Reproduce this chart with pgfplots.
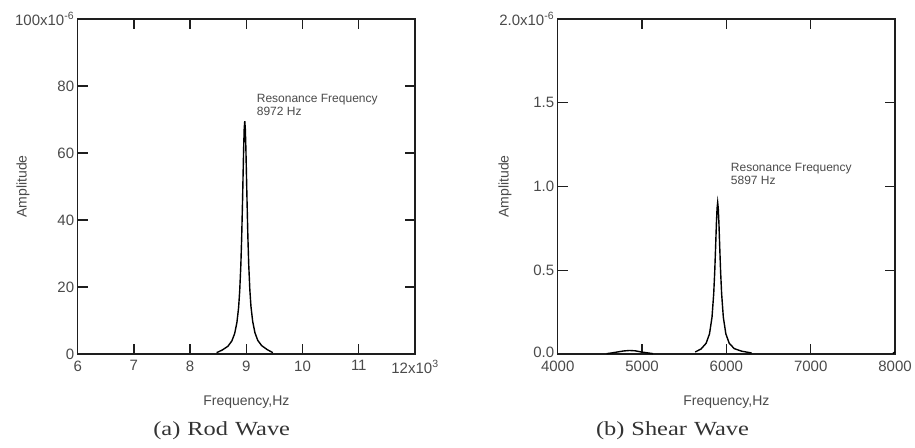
\documentclass[border=0pt]{standalone}
\usepackage{pgfplots}
\pgfplotsset{compat=1.18}
\usepackage{fontspec}
\setmainfont{Liberation Sans}
\newfontfamily\capfont[FakeStretch=1.22]{Liberation Serif}
\definecolor{txt}{HTML}{4A4A4A}
\definecolor{axc}{HTML}{1E1E1E}
\pgfplotsset{myax/.style={
  scale only axis, width=337.3pt, height=335pt, anchor=south west,
  axis line style={line width=1.3pt, color=axc},
  major tick length=10pt,
  scaled ticks=false,
  tick style={line width=1.3pt, color=axc},
  tick label style={font=\fontsize{15}{17}\selectfont, text=txt},
  xticklabel style={yshift=-3pt},
  label style={font=\fontsize{14}{16}\selectfont, text=txt},
  xlabel style={at={(axis description cs:0.5,-0.143)}, anchor=center},
  ylabel style={anchor=center},
}}
\tikzset{crv/.style={line width=1.4pt, color=black, mark=none}}
\begin{document}
\begin{tikzpicture}
\path[use as bounding box] (0pt,0pt) rectangle (915pt,447pt);
% (a) Rod wave
\begin{axis}[myax, at={(77.7pt,93pt)},
  xmin=6000, xmax=12000, ymin=0, ymax=100,
  xtick={6000,7000,8000,9000,10000,11000,12000},
  xticklabels={6,7,8,9,10,11,{12x10\textsuperscript{3}}},
  ytick={0,20,40,60,80,100},
  yticklabels={0,20,40,60,80,{100x10\textsuperscript{-6}}},
  xlabel={Frequency,Hz}, ylabel={Amplitude},
  ylabel style={at={(axis description cs:-0.162,0.5)}},
]
\addplot[crv] coordinates {
(8472,0.4) (8572,1.2) (8672,2.3) (8742,3.9) (8792,6.1) (8832,9.4) (8862,13.8)
(8882,18.9) (8902,26.5) (8917,34.8) (8932,45.5) (8942,53.6) (8952,61.4)
(8962,67.3) (8972,69.5) (8982,67.1) (8992,61.2) (9002,53.4) (9012,45.8)
(9027,35.1) (9042,26.8) (9062,19.2) (9082,14.2) (9112,9.8) (9152,6.4)
(9202,4.1) (9272,2.5) (9372,1.3) (9472,0.4)};
\node[anchor=north west, inner sep=0pt, align=left, text=txt,
  font=\fontsize{12}{13}\selectfont] at (axis cs:9184,77.5)
  {Resonance Frequency\\8972 Hz};
\end{axis}
% (b) Shear wave
\begin{axis}[myax, at={(557.7pt,93pt)},
  xmin=4000, xmax=8000, ymin=0, ymax=2,
  xtick={4000,5000,6000,7000,8000},
  xticklabels={4000,5000,6000,7000,8000},
  ytick={0,0.5,1,1.5,2},
  yticklabels={\raisebox{3pt}{0.0},0.5,1.0,1.5,{2.0x10\textsuperscript{-6}}},
  xlabel={Frequency,Hz}, ylabel={Amplitude},
  ylabel style={at={(axis description cs:-0.156,0.5)}},
]
\addplot[crv] coordinates {
(4580,0.002) (4650,0.007) (4720,0.013) (4780,0.018) (4850,0.021) (4920,0.019)
(4980,0.013) (5060,0.007) (5130,0.002)};
\addplot[crv] coordinates {
(5630,0.012) (5700,0.03) (5760,0.064) (5800,0.12) (5830,0.22) (5850,0.36)
(5862,0.49) (5872,0.63) (5882,0.78) (5890,0.87) (5897,0.905) (5904,0.87)
(5912,0.78) (5922,0.63) (5932,0.49) (5944,0.36) (5964,0.22) (5994,0.12)
(6034,0.064) (6094,0.032) (6180,0.017) (6300,0.006)};
\addplot[crv] coordinates {(7975,0.004) (8000,0.012)};
\node[anchor=north west, inner sep=0pt, align=left, text=txt,
  font=\fontsize{12}{13}\selectfont] at (axis cs:6052,1.14)
  {Resonance Frequency\\5897 Hz};
\end{axis}
\node[font=\capfont\fontsize{20}{22}\selectfont, text=black!80] at (221.7pt,16.3pt) {(a)\hspace{0.35em}Rod\hspace{0.35em}Wave};
\node[font=\capfont\fontsize{20}{22}\selectfont, text=black!80] at (672.5pt,16.3pt) {(b)\hspace{0.35em}Shear\hspace{0.35em}Wave};
\end{tikzpicture}
\end{document}
